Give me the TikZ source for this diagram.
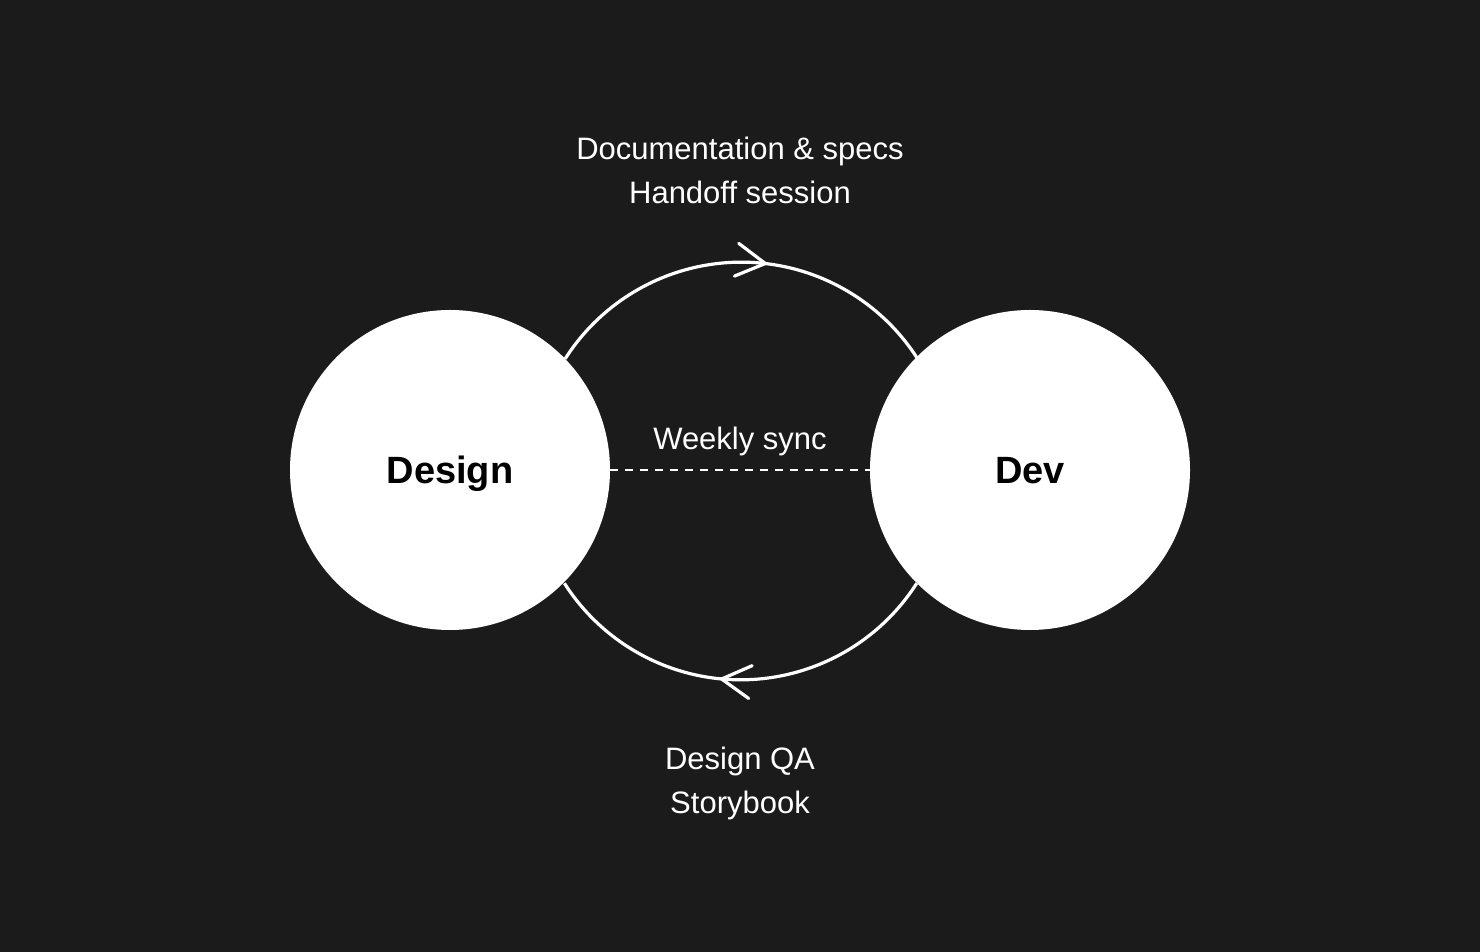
\documentclass[tikz,border=0pt]{standalone}
\usepackage{fontspec}
\setmainfont{Liberation Sans}
\usetikzlibrary{arrows.meta,decorations.markings}
\definecolor{bg}{HTML}{1B1B1B}
\tikzset{barb/.tip={Straight Barb[length=29pt, width=33pt, line cap=round]}}
\begin{document}
\begin{tikzpicture}[x=1pt, y=1pt,
  team/.style={circle, fill=white, minimum size=320pt, inner sep=0pt,
    font=\bfseries\fontsize{38}{44}\selectfont, text=black,
    text height=27pt, text depth=0pt},
  lbl/.style={text=white, inner sep=0pt, anchor=base,
    font=\fontsize{31}{44}\selectfont},
  loop/.style={draw=white, line width=3.2pt, postaction={decorate}}]
\useasboundingbox[fill=bg] (0,0) rectangle (1480,952);

\node[team] (design) at (450,482) {Design};
\node[team] (dev) at (1030,482) {Dev};

% handoff loop, design -> dev
\draw[loop, decoration={markings, mark=at position 0.565 with {\arrow{barb}}}]
  (design.44.66) arc[start angle=147.45, end angle=32.55, radius=209];
% feedback loop, dev -> design
\draw[loop, decoration={markings, mark=at position 0.553 with {\arrow{barb}}}]
  (dev.-135.34) arc[start angle=-32.55, end angle=-147.45, radius=209];

% weekly sync
\draw[white, line width=2pt, dash pattern=on 8pt off 7pt] (design.east) -- (dev.west);
\node[lbl] (sync) at (740,502) {Weekly sync};

% labels above and below
\node[lbl] (docs) at (740,792) {Documentation \& specs};
\node[lbl] (handoff) at (740,748) {Handoff session};
\node[lbl] (qa) at (740,182) {Design QA};
\node[lbl] (story) at (740,138) {Storybook};
\end{tikzpicture}
\end{document}
